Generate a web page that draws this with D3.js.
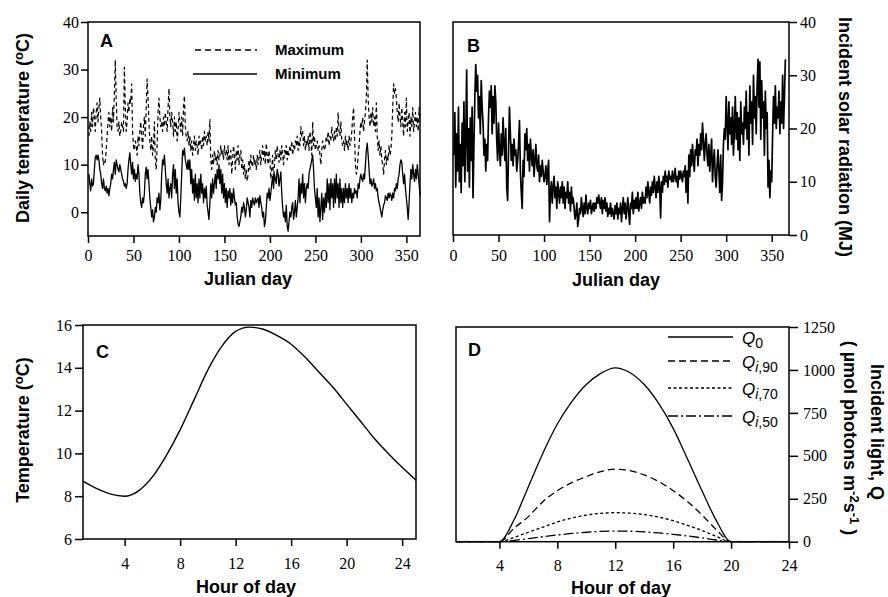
<!DOCTYPE html>
<html>
<head>
<meta charset="utf-8">
<script src="https://cdn.jsdelivr.net/npm/d3@7"></script>
<style>
body { margin: 0; background: #fff; }
svg { display: block; background: #fff; }
.title { font-family: "Liberation Sans", Arial, sans-serif; font-weight: bold; font-size: 18px; fill: #000; }
.leg { font-family: "Liberation Sans", Arial, sans-serif; font-weight: bold; font-size: 15px; fill: #000; }
.qleg { font-family: "Liberation Sans", Arial, sans-serif; font-size: 17px; fill: #000; }
</style>
</head>
<body>
<svg width="888" height="597"></svg>
<script>
// panel A / B: daily values, Julian day 1..365
var days = d3.range(1, 366);

var maxTemp = [
  16, 19, 17, 21, 18, 22, 20, 17, 21, 23,
  19, 22, 24, 20, 17, 12, 10, 11, 10.5, 13,
  16, 19, 21, 18, 20, 17, 22, 19, 25, 32,
  24, 18, 17, 19, 16, 17, 19, 18, 17, 30.5,
  22, 17, 19, 23, 21, 24, 23, 27, 17, 14,
  13, 15, 14, 12, 16, 14, 17, 19, 16, 13,
  18, 20, 16, 22, 28, 24, 19, 15, 13, 16,
  12, 14, 19, 11, 9, 14, 21, 24, 20, 18,
  19, 17, 20, 18, 21, 19, 17, 22, 26, 20,
  18, 21, 19, 16, 20, 17, 19, 15, 17, 21,
  19, 17, 20, 16, 22, 24.5, 18, 16, 15, 17,
  14, 16, 13, 15, 12, 14, 16, 13, 15, 14,
  12, 16, 14, 15, 13, 16, 14, 17, 15, 16,
  14, 17, 15, 19.5, 11, 9, 12, 10, 13, 11,
  12, 10, 13, 11, 12, 14, 12, 13, 11, 14,
  12, 13, 11, 14, 10, 12, 13, 8, 11, 14,
  12, 9, 13, 11, 14, 10, 12, 13, 9, 11,
  8, 10, 7, 9, 6.5, 8, 11, 9, 12, 10,
  9.5, 12, 10, 11, 9, 12, 10, 11.5, 13, 10,
  12, 14, 11, 13, 10, 14.5, 12, 10, 13, 11,
  7, 9, 12, 6.5, 10, 13, 11, 14, 12, 10.5,
  13, 11, 14, 12, 10, 13, 12, 14, 11, 13,
  12, 14, 13, 15, 12, 14, 13, 15, 14, 16,
  13, 15, 14, 18, 16, 17, 14, 16, 13, 15,
  14, 16, 13, 17, 15, 12, 19, 14, 16, 13,
  14, 15, 13, 14, 12, 10, 13, 15, 14, 13,
  14, 16, 15, 17, 14, 16, 15, 18, 16, 15,
  17, 15, 18, 16, 21, 17, 16, 19, 15, 14,
  15, 13, 16, 14, 15, 13, 16, 14, 15, 17,
  20, 22, 16, 10, 8, 9, 12, 14, 17, 19,
  18, 20, 17, 19, 21, 24, 32, 24, 20, 18,
  21, 19, 22, 18, 20, 17, 23, 16, 13, 15,
  12, 14, 11, 10, 8, 11, 13, 10, 12, 11,
  14, 12, 13, 16, 22, 27, 25, 26, 24, 21,
  19, 23, 20, 18, 22, 19, 16, 21, 18, 24,
  17, 19, 21, 16, 20, 18, 22, 17, 19, 21,
  18, 20, 17, 22, 19
];

var minTemp = [
  8, 6, 4.5, 7, 5.5, 6, 9, 11.5, 12, 11,
  12, 11, 9, 8, 6, 5, 7, 5, 4.5, 5.5,
  4, 5, 3.5, 5, 6, 8, 7, 9, 10.5, 8,
  11, 10, 9, 8.5, 10, 9, 8, 7, 6.5, 5.5,
  6, 5, 6, 9, 11, 12.5, 10, 8, 10.5, 7,
  9, 6.5, 8, 7, 10, 8, 4, 2, 1, 3,
  2, 4, 8, 9.5, 7, 9, 6, 3, 1, -1,
  0.5, -2, -1, 1, 0, 3, 2, 4, 0.5, 2.5,
  8, 11, 10, 12, 9, 6, 4, 7, 3, 5,
  6, 3, 8, 10, 5, 9, 4, 7, 2, 0,
  -1, 3, 8, 13, 12, 13.5, 11, 10, 9, 11,
  9, 11, 6, 9, 4, 7, 2.5, 8, 3, 6,
  2, 7, 3, 8, 4, 6, 2, 5, 3, 5.5,
  1.5, 0, -1.5, 2, 6, 3, 7, 4, 6, 8,
  5, 9, 7, 10, 6, 9, 4, 8, 3, 6,
  2, 5, 1, 4.5, 3, 5, 1.5, 4, 2, 5,
  3, 1.5, 2, -1, -2.5, -3, -2, -1, 1, 0,
  2, 1, -1, 0.5, 3, 2, 1, -1, 2.5, 1,
  3, 2, 1.5, 3, 2, 2.5, 3, 1, 3.5, 2,
  1, -1, 0, -3, -2, 1, 4, 3, 5, 2.5,
  4, 6, 7.5, 5, 8, 7, 6, 9, 8, 5.5,
  7, 8.5, 4, 1, -1, 0, -2, 1.5, -3, -4,
  -2, 0, -1, 1, 2, -1.5, 0, 2.5, -1, 1,
  3, 7, 2, 6, 4, 8, 3, 6, 2, 5,
  6, 5, 8, 9, 10, 11, 12, 9, 5, 3,
  1, 5, -1, 3, -2, 1, 4, -1.5, 3, 0,
  4, 1, 7, 2, 6, 0.5, 7, 3, 6, 1,
  7, 2, 8, 3, 6, 1, 7, 2, 5, 1,
  5, 2, 6, 3, 5, 2, 6, 3, 5, 2,
  4, 3, 5, 4, 4.5, 3, 6, 5, 7, 8,
  7, 6.5, 8, 7, 10, 13, 14.5, 12, 9, 6,
  7, 5.5, 6, 7, 5, 6, 4.5, 5, 3, 2,
  1, 0, -1, 0.5, 1.5, 2, 3.5, 3, 2.5, 4,
  3, 4, 3.5, 2.5, 4, 3, 5, 4.5, 6, 5,
  7, 8, 10, 11, 10.5, 8, 6, 8, 5, 3,
  1, -1.5, 2, 6, 9, 7, 10, 8, 6.5, 9,
  7, 10, 8, 6, 3.5
];

var solar = [
  15, 23, 9, 19, 12, 24, 10, 17, 8, 21,
  13, 25, 10, 18, 31, 12, 20, 9, 22, 14,
  24, 7, 17, 26, 32, 27, 30, 22, 26, 19,
  29, 24, 21, 15, 18, 12, 17, 14, 22, 27,
  24, 28, 19, 26, 21, 28, 25, 18, 14, 21,
  16, 13, 19, 15, 22, 17, 14, 20, 9, 6.5,
  16, 24, 19, 14, 17, 13, 18, 15, 16, 12,
  14, 17, 21.5, 12, 8, 5, 14, 11, 19, 16,
  20, 14, 17, 12, 18, 15, 13, 16, 11, 14,
  17, 13, 12, 15, 10, 13, 11, 14, 12, 10,
  11, 13, 9.5, 12, 14, 2.5, 8, 10, 6, 9,
  11, 7, 9, 5, 10, 8, 6, 9, 7, 10,
  6, 9, 5, 8, 7, 10, 6, 8, 4.5, 9,
  6, 7, 5, 3, 4, 6, 1.6, 3, 5, 4,
  7, 5, 3.5, 6, 4, 7.5, 5, 4, 6, 5,
  6.5, 4, 5, 6, 4.5, 6, 5, 7, 6, 7.5,
  6, 5, 7, 4, 6.5, 5, 7, 4.5, 6, 3.5,
  5, 4, 6, 3.5, 5, 4, 3, 5.5, 4, 6,
  3, 5, 4, 6, 2.5, 5, 7, 4, 6, 3,
  5, 7, 4, 2, 6, 5, 8, 4, 6.5, 5,
  7, 5, 8, 4.5, 6, 7, 5, 8, 6, 7,
  6, 9, 7, 10, 8, 6, 9, 7.5, 10, 8,
  11, 9, 7, 10, 8, 11, 9, 3.2, 10, 8,
  11, 9.5, 12, 10, 11, 9, 12, 10.5, 11, 10,
  12, 10, 11, 12.5, 10, 11, 9, 12, 10.5, 12,
  11, 10, 12, 11, 13, 8, 12, 6, 15, 11,
  16, 13, 17, 14, 12, 16, 15, 18, 13, 17,
  15, 19, 16, 21, 18, 14, 17, 19, 15, 13,
  17, 12, 15, 18, 10, 14, 16, 11, 9, 13,
  16, 12, 8, 15, 6.5, 10, 17, 20, 18, 26,
  21, 16, 25, 19, 22, 17, 24, 15, 20, 26,
  18, 23, 16, 22, 14, 25, 19, 21, 17, 24,
  20, 27, 18, 23, 15, 28, 21, 25, 17, 30,
  22, 26, 19, 28, 33, 24, 32.5, 18, 29, 22,
  25, 15, 27, 20, 23, 9, 14, 7, 12, 10,
  19, 26, 21, 28, 20, 24, 22, 27, 19, 25,
  21, 30, 20, 26, 33
];

// panel C: hourly temperature
var hoursC = d3.range(1, 26);
var tempC = [8.7, 8.35, 8.1, 8.0, 8.25, 8.9, 9.9, 11.1, 12.5, 13.9, 15.0, 15.7, 15.9,
             15.8, 15.5, 15.1, 14.5, 13.8, 13.1, 12.3, 11.5, 10.7, 10.0, 9.35, 8.75];

// panel D: hourly incident light
var hoursD = d3.range(1, 25);
var q0   = [0, 0, 0, 0, 126, 320, 515, 685, 815, 915, 980, 1012, 985, 915, 805, 660, 480, 295, 120, 0, 0, 0, 0, 0];
var qi90 = [0, 0, 0, 0, 78, 146, 233, 297, 344, 379, 408, 422, 414, 389, 350, 297, 233, 155, 68, 0, 0, 0, 0, 0];
var qi70 = [0, 0, 0, 0, 25, 55, 85, 115, 138, 155, 165, 169, 166, 158, 143, 122, 95, 65, 30, 0, 0, 0, 0, 0];
var qi50 = [0, 0, 0, 0, 8, 18, 29, 39, 48, 55, 60, 62, 61, 57, 51, 43, 33, 22, 10, 0, 0, 0, 0, 0];

var dayTicks = [0, 50, 100, 150, 200, 250, 300, 350];
var hourTicks = [4, 8, 12, 16, 20, 24];

var svg = d3.select('svg');
var serif = '"Liberation Serif", "Times New Roman", "DejaVu Serif", serif';

function styleAxis(g) {
  g.select('.domain').remove();
  g.attr('font-family', serif).attr('font-size', 16);
  g.selectAll('.tick line').attr('stroke', '#000').attr('stroke-width', 1.5);
  g.selectAll('.tick text').attr('fill', '#000').style('font-family', serif);
}

function makePanel(p) {
  var x = d3.scaleLinear().domain(p.xDomain).range([p.left, p.right]);
  var y = d3.scaleLinear().domain(p.yDomain).range([p.bottom, p.top]);

  svg.append('g')
    .attr('transform', 'translate(0,' + p.bottom + ')')
    .call(d3.axisBottom(x).tickValues(p.xTicks).tickFormat(d3.format('d'))
      .tickSize(7).tickPadding(p.xPad).tickSizeOuter(0))
    .call(styleAxis);

  var yAxis = (p.yRight ? d3.axisRight(y) : d3.axisLeft(y))
    .tickValues(p.yTicks).tickFormat(d3.format('d'))
    .tickSize(p.ySize).tickPadding(p.yPad).tickSizeOuter(0);
  svg.append('g')
    .attr('transform', 'translate(' + (p.yRight ? p.right : p.left) + ',0)')
    .call(yAxis)
    .call(styleAxis);

  svg.append('rect')
    .attr('x', p.left).attr('y', p.top)
    .attr('width', p.right - p.left).attr('height', p.bottom - p.top)
    .attr('fill', 'none').attr('stroke', '#000').attr('stroke-width', 1.5);

  svg.append('text').attr('class', 'title')
    .attr('x', p.letter[0]).attr('y', p.letter[1]).text(p.name);

  return {x: x, y: y};
}

function drawLine(sc, xs, ys, width, dash, curve) {
  var line = d3.line()
    .x(function(d, i) { return sc.x(xs[i]); })
    .y(function(d) { return sc.y(d); });
  if (curve) line.curve(curve);
  svg.append('path')
    .datum(ys)
    .attr('d', line)
    .attr('fill', 'none')
    .attr('stroke', '#000')
    .attr('stroke-width', width)
    .attr('stroke-dasharray', dash || null)
    .attr('stroke-linejoin', 'round');
}

// ---- A
var a = makePanel({name: 'A', letter: [100, 47], left: 88, right: 420, top: 22, bottom: 236,
  xDomain: [0, 365], yDomain: [-5, 40], xTicks: dayTicks, yTicks: [0, 10, 20, 30, 40],
  xPad: 7, ySize: 7, yPad: 2});
drawLine(a, days, maxTemp, 1.2, '4,3');
drawLine(a, days, minTemp, 1.3);

svg.append('line').attr('x1', 195).attr('x2', 257).attr('y1', 50).attr('y2', 50)
  .attr('stroke', '#000').attr('stroke-width', 1.3).attr('stroke-dasharray', '6,4');
svg.append('line').attr('x1', 193).attr('x2', 257).attr('y1', 74).attr('y2', 74)
  .attr('stroke', '#000').attr('stroke-width', 1.3);
svg.append('text').attr('class', 'leg').attr('x', 275).attr('y', 55).text('Maximum');
svg.append('text').attr('class', 'leg').attr('x', 275).attr('y', 79).text('Minimum');

var ta = svg.append('text').attr('class', 'title')
  .attr('transform', 'translate(29,128) rotate(-90)').attr('text-anchor', 'middle');
ta.append('tspan').text('Daily temperature (');
ta.append('tspan').attr('dy', -6).attr('font-size', 13).text('o');
ta.append('tspan').attr('dy', 6).text('C)');
svg.append('text').attr('class', 'title').attr('x', 248).attr('y', 285)
  .attr('text-anchor', 'middle').text('Julian day');

// ---- B
var b = makePanel({name: 'B', letter: [467, 52], left: 453, right: 789, top: 22, bottom: 235,
  xDomain: [0, 369], yDomain: [0, 40], xTicks: dayTicks, yTicks: [0, 10, 20, 30, 40],
  xPad: 8, ySize: 8, yPad: 3, yRight: true});
drawLine(b, days, solar, 1.7);

svg.append('text').attr('class', 'title')
  .attr('transform', 'translate(839,137) rotate(90)').attr('text-anchor', 'middle')
  .text('Incident solar radiation (MJ)');
svg.append('text').attr('class', 'title').attr('x', 616).attr('y', 286)
  .attr('text-anchor', 'middle').text('Julian day');

// ---- C
var c = makePanel({name: 'C', letter: [96, 358], left: 83, right: 416, top: 325, bottom: 539,
  xDomain: [1, 25], yDomain: [6, 16], xTicks: hourTicks, yTicks: [6, 8, 10, 12, 14, 16],
  xPad: 12, ySize: 8, yPad: 3});
drawLine(c, hoursC, tempC, 1.4, null, d3.curveMonotoneX);

var tc = svg.append('text').attr('class', 'title')
  .attr('transform', 'translate(29,430) rotate(-90)').attr('text-anchor', 'middle');
tc.append('tspan').text('Temperature (');
tc.append('tspan').attr('dy', -6).attr('font-size', 13).text('o');
tc.append('tspan').attr('dy', 6).text('C)');
svg.append('text').attr('class', 'title').attr('x', 246).attr('y', 593)
  .attr('text-anchor', 'middle').text('Hour of day');

// ---- D
var dd = makePanel({name: 'D', letter: [468, 356], left: 456, right: 789, top: 327, bottom: 541.7,
  xDomain: [1, 24], yDomain: [0, 1250], xTicks: hourTicks, yTicks: [0, 250, 500, 750, 1000, 1250],
  xPad: 11, ySize: 9, yPad: 5, yRight: true});
var qSeries = [
  {vals: q0, dash: null, sub: '0', lab: ''},
  {vals: qi90, dash: '7,4', sub: 'i', lab: ',90'},
  {vals: qi70, dash: '3,2.5', sub: 'i', lab: ',70'},
  {vals: qi50, dash: '10,3,2,3', sub: 'i', lab: ',50'}
];
var legY = [337, 361, 388, 416];
qSeries.forEach(function(s, k) {
  drawLine(dd, hoursD, s.vals, 1.3, s.dash, d3.curveMonotoneX);
  svg.append('line').attr('x1', 668).attr('x2', 733).attr('y1', legY[k]).attr('y2', legY[k])
    .attr('stroke', '#000').attr('stroke-width', 1.3).attr('stroke-dasharray', s.dash);
  var t = svg.append('text').attr('class', 'qleg').attr('x', 742).attr('y', legY[k] + 7);
  t.append('tspan').attr('font-style', 'italic').text('Q');
  var sb = t.append('tspan').attr('dy', 4).attr('font-size', 14);
  if (s.sub === 'i') {
    sb.append('tspan').attr('font-style', 'italic').text('i');
    sb.append('tspan').text(s.lab);
  } else {
    sb.text(s.sub);
  }
});

svg.append('text').attr('class', 'title')
  .attr('transform', 'translate(871,432) rotate(90)').attr('text-anchor', 'middle')
  .text('Incident light, Q');
var td2 = svg.append('text').attr('class', 'title')
  .attr('transform', 'translate(844,438) rotate(90)').attr('text-anchor', 'middle');
td2.append('tspan').text('( \u00b5mol photons m');
td2.append('tspan').attr('dy', -6).attr('font-size', 13).text('-2');
td2.append('tspan').attr('dy', 6).text('s');
td2.append('tspan').attr('dy', -6).attr('font-size', 13).text('-1');
td2.append('tspan').attr('dy', 6).text(' )');
svg.append('text').attr('class', 'title').attr('x', 621).attr('y', 594)
  .attr('text-anchor', 'middle').text('Hour of day');
</script>
</body>
</html>
